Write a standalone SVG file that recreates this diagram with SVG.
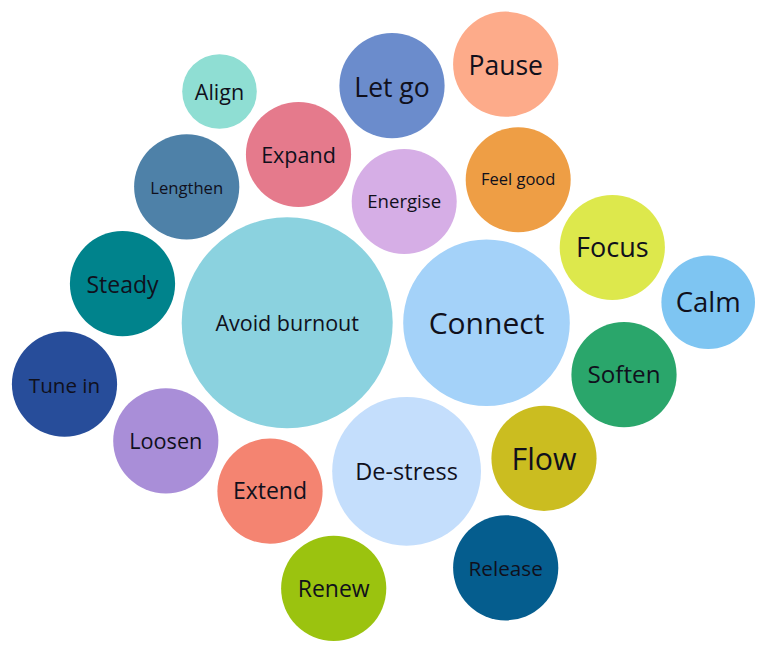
<svg xmlns="http://www.w3.org/2000/svg" width="768" height="655" viewBox="0 0 768 655">
<style>
  text { font-family: "Open Sans", "Noto Sans", "Liberation Sans", sans-serif; fill: #10101c; text-anchor: middle; }
</style>
<rect width="768" height="655" fill="#ffffff"/>
<g id="connectors"></g>
<g id="avoid-burnout"><circle cx="287.2" cy="322.8" r="105.5" fill="#8bd2df"/><text x="287.2" y="331" font-size="21.5">Avoid burnout</text></g>
<g id="connect"><circle cx="486.5" cy="322.7" r="83.3" fill="#a4d2f9"/><text x="486.5" y="334" font-size="30">Connect</text></g>
<g id="de-stress"><circle cx="406.6" cy="471.3" r="74.4" fill="#c4defc"/><text x="406.6" y="480" font-size="23.5">De-stress</text></g>
<g id="align"><circle cx="219.5" cy="91.5" r="37.3" fill="#8fded3"/><text x="219.5" y="100" font-size="21.5">Align</text></g>
<g id="expand"><circle cx="298.5" cy="154.5" r="52.6" fill="#e57a8c"/><text x="298.5" y="162.5" font-size="21.5">Expand</text></g>
<g id="lengthen"><circle cx="186.7" cy="186.8" r="52.6" fill="#4e81a8"/><text x="186.7" y="194" font-size="16.6">Lengthen</text></g>
<g id="steady"><circle cx="122.5" cy="283.7" r="52.6" fill="#00838c"/><text x="122.5" y="293" font-size="23">Steady</text></g>
<g id="let-go"><circle cx="392" cy="85.7" r="52.6" fill="#6b8ccc"/><text x="392" y="96.5" font-size="26.5">Let go</text></g>
<g id="energise"><circle cx="404.2" cy="201.5" r="52.5" fill="#d6aee6"/><text x="404.2" y="208" font-size="18.6">Energise</text></g>
<g id="pause"><circle cx="505.7" cy="64.2" r="52.6" fill="#fdab8a"/><text x="505.7" y="75" font-size="26.5">Pause</text></g>
<g id="feel-good"><circle cx="518.2" cy="179.8" r="52.5" fill="#ee9e45"/><text x="518.2" y="185.3" font-size="16.5">Feel good</text></g>
<g id="focus"><circle cx="612.3" cy="247.5" r="52.6" fill="#dde84c"/><text x="612.3" y="257.3" font-size="27">Focus</text></g>
<g id="calm"><circle cx="708.2" cy="302.3" r="46.8" fill="#7ec5f2"/><text x="708.2" y="311.7" font-size="27.5">Calm</text></g>
<g id="tune-in"><circle cx="64.5" cy="384.2" r="52.6" fill="#274d9a"/><text x="64.5" y="392.5" font-size="20.6">Tune in</text></g>
<g id="loosen"><circle cx="165.8" cy="440.8" r="52.6" fill="#a98ed8"/><text x="165.8" y="449" font-size="21.7">Loosen</text></g>
<g id="extend"><circle cx="270" cy="491.2" r="52.6" fill="#f48471"/><text x="270" y="499" font-size="23">Extend</text></g>
<g id="renew"><circle cx="333.7" cy="588.3" r="52.6" fill="#9bc30f"/><text x="333.7" y="596.7" font-size="23">Renew</text></g>
<g id="soften"><circle cx="624" cy="374.7" r="52.6" fill="#2aa66b"/><text x="624" y="382.7" font-size="24.2">Soften</text></g>
<g id="flow"><circle cx="544" cy="458.3" r="52.6" fill="#cbbd20"/><text x="544" y="470" font-size="30.3">Flow</text></g>
<g id="release"><circle cx="505.7" cy="567.8" r="52.6" fill="#055d8e"/><text x="505.7" y="575.7" font-size="20.7">Release</text></g>
</svg>
